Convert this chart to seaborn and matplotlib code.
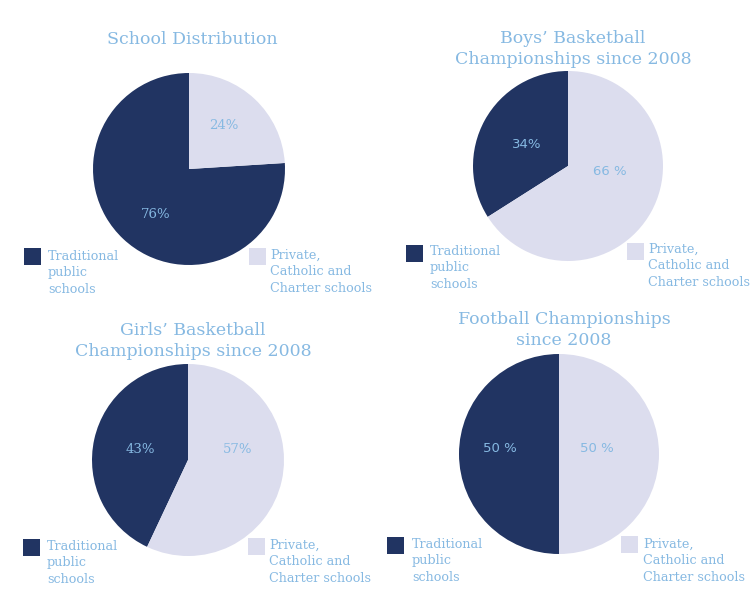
import matplotlib
matplotlib.use("Agg")
import matplotlib.pyplot as plt
import seaborn as sns
from matplotlib.patches import Rectangle

#==================
#Data
#==================
titles = [
    "School Distribution",
    "Boys\u2019 Basketball\nChampionships since 2008",
    "Girls\u2019 Basketball\nChampionships since 2008",
    "Football Championships\nsince 2008",
]
categories = ["Traditional\npublic\nschools", "Private,\nCatholic and\nCharter schools"]
traditional = [76, 34, 43, 50]
private = [24, 66, 57, 50]
pct_labels = [
    ["76%", "24%"],
    ["34%", "66 %"],
    ["43%", "57%"],
    ["50 %", "50 %"],
]

#==================
#Style / layout (pixels)
#==================
W, H = 750, 594
dark = "#213462"
light = "#DCDDEE"
txt = "#86B9E2"
serif = ["DejaVu Serif"]
sans = ["DejaVu Sans"]

# pie centre x, y and radius
pies = [(189, 169, 96), (568, 166, 95), (188, 460, 96), (559, 454, 100)]
# label offsets in units of radius
label_pos = [
    [(-0.35, -0.47), (0.36, 0.45)],
    [(-0.43, 0.23), (0.44, -0.06)],
    [(-0.50, 0.11), (0.52, 0.11)],
    [(-0.59, 0.06), (0.38, 0.06)],
]
label_font = [serif, sans, serif, sans]
title_pos = [(192, 40), (573, 49), (193, 341), (564, 330)]
# legend: (square x, square y top, text x, text first line y)
legend_pos = [
    [(24, 248, 48, 257), (249, 248, 270, 256)],
    [(406, 245, 430, 252), (627, 243, 648, 250)],
    [(23, 539, 47, 547), (248, 538, 269, 546)],
    [(387, 537, 412, 545), (621, 536, 643, 545)],
]

sns.set_theme(style="white")
plt.rcParams["font.family"] = serif

fig = plt.figure(figsize=(W / 100, H / 100), dpi=100)
fig.patch.set_facecolor("white")


def fx(x):
    return x / W


def fy(y):
    return 1 - y / H


for i in range(4):
    cx, cy, r = pies[i]
    ax = fig.add_axes([fx(cx - r), fy(cy + r), 2 * r / W, 2 * r / H])
    ax.pie(
        [traditional[i], private[i]],
        colors=[dark, light],
        startangle=90,
        counterclock=True,
        wedgeprops={"linewidth": 0},
    )
    ax.set_xlim(-1, 1)
    ax.set_ylim(-1, 1)
    ax.set_aspect("equal")
    ax.axis("off")

    for j in range(2):
        dx, dy = label_pos[i][j]
        ax.text(dx, dy, pct_labels[i][j], ha="center", va="center",
                color=txt, fontsize=9.5, family=label_font[i])

    tx, ty = title_pos[i]
    fig.text(fx(tx), fy(ty), titles[i], ha="center", va="center",
             color=txt, fontsize=12.5, linespacing=1.35)

    colors = [dark, light]
    for j in range(2):
        sx, sy, lx, ly = legend_pos[i][j]
        fig.patches.append(Rectangle((fx(sx), fy(sy + 17)), 17 / W, 17 / H,
                                     transform=fig.transFigure,
                                     facecolor=colors[j], edgecolor="none"))
        fig.text(fx(lx), fy(ly - 7), categories[j], ha="left", va="top",
                 color=txt, fontsize=9.2, linespacing=1.33)

plt.savefig("out.png", dpi=100, facecolor="white")
